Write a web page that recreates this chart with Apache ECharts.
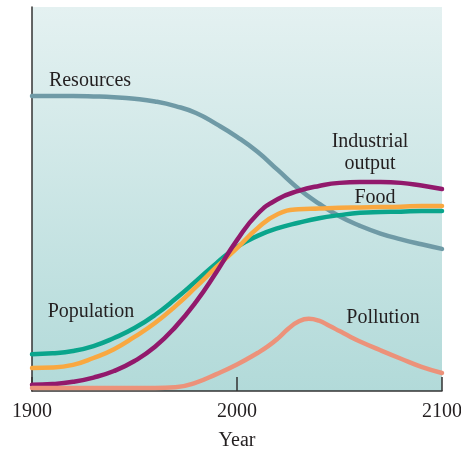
<!DOCTYPE html>
<html>
<head>
<meta charset="utf-8">
<script src="https://cdn.jsdelivr.net/npm/echarts@6/dist/echarts.min.js"></script>
<style>html,body{margin:0;padding:0;background:#fff}#c{width:461px;height:453px}</style>
</head>
<body>
<div id="c"></div>
<script>
const years = [1900,1910,1920,1930,1940,1950,1960,1970,1980,1990,2000,2010,2020,2030,2040,2050,2060,2070,2080,2090,2100];
const resources = [76.8,76.8,76.8,76.7,76.5,76.1,75.4,74.2,72.4,69.5,66.2,62.3,57.5,52.7,48.8,45.5,43.0,41.0,39.5,38.2,37.0];
const population = [9.6,9.8,10.4,11.7,13.8,16.4,19.8,24.0,28.6,33.3,37.5,40.4,42.4,43.8,45.0,45.8,46.4,46.6,46.7,46.9,46.9];
const food = [6.0,6.1,6.8,8.6,10.9,14.1,17.7,22.1,27.1,32.3,37.2,42.4,46.1,47.3,47.5,47.7,47.8,47.9,48.0,48.2,48.2];
const industrial = [1.6,1.8,2.4,3.5,5.2,7.8,11.5,16.7,23.2,31.0,39.3,46.1,50.0,52.1,53.4,54.2,54.4,54.4,54.2,53.5,52.6];
const pollutionYears = [1900,1920,1940,1960,1970,1980,1990,2000,2010,2015,2020,2025,2030,2035,2040,2045,2050,2055,2060,2070,2080,2090,2100];
const pollution = [0.8,0.8,0.8,0.8,1.0,2.2,4.4,6.9,9.9,11.6,13.7,16.2,18.1,18.8,18.3,17.0,15.6,14.2,12.9,10.6,8.4,6.3,4.7];
const xTicks = [1900,2000,2100];

const pair = (xs, ys) => xs.map((x, i) => [x, ys[i]]);
const serif = '"Liberation Serif", "DejaVu Serif", serif';
const txt = '#231f20';

const chart = echarts.init(document.getElementById('c'), null, {renderer: 'canvas'});
function line(name, data, color) {
  return {
    name, type: 'line', data, smooth: 0.5, symbol: 'none',
    lineStyle: {color, width: 4.5, cap: 'round'}, silent: true
  };
}
function label(text, x, y) {
  return {type: 'text', x, y, style: {text, font: '20px ' + serif, fill: txt, align: 'center', verticalAlign: 'top'}, z: 100};
}
chart.setOption({
  animation: false,
  grid: {
    left: 32, right: 19, top: 7, bottom: 62, show: true, borderWidth: 0,
    outerBoundsMode: 'none', containLabel: false,
    backgroundColor: new echarts.graphic.LinearGradient(0, 0, 0, 1, [
      {offset: 0, color: '#e4f1f1'}, {offset: 1, color: '#b2dad9'}
    ])
  },
  xAxis: {
    type: 'value', min: xTicks[0], max: xTicks[xTicks.length - 1], interval: 100,
    axisLine: {show: true, lineStyle: {color: '#333', width: 1.5}},
    axisTick: {show: true, inside: true, length: 14, lineStyle: {color: '#333', width: 1.5}},
    axisLabel: {fontFamily: serif, fontSize: 20, color: txt, margin: 11, formatter: v => String(v)},
    splitLine: {show: false},
    name: 'Year', nameLocation: 'middle', nameGap: 40,
    nameTextStyle: {fontFamily: serif, fontSize: 20, color: txt}
  },
  yAxis: {
    type: 'value', min: 0, max: 100,
    axisLine: {show: true, onZero: false, lineStyle: {color: '#333', width: 1.5}},
    axisTick: {show: false}, axisLabel: {show: false}, splitLine: {show: false}
  },
  series: [
    line('Resources', pair(years, resources), '#6f9aa6'),
    line('Population', pair(years, population), '#0aa58c'),
    line('Food', pair(years, food), '#f9a840'),
    line('Industrial output', pair(years, industrial), '#92196c'),
    line('Pollution', pair(pollutionYears, pollution), '#ec927a')
  ],
  graphic: [
    label('Resources', 90, 71),
    label('Industrial', 370, 132),
    label('output', 370, 154),
    label('Food', 375, 188),
    label('Population', 91, 302),
    label('Pollution', 383, 308)
  ]
});
</script>
</body>
</html>
